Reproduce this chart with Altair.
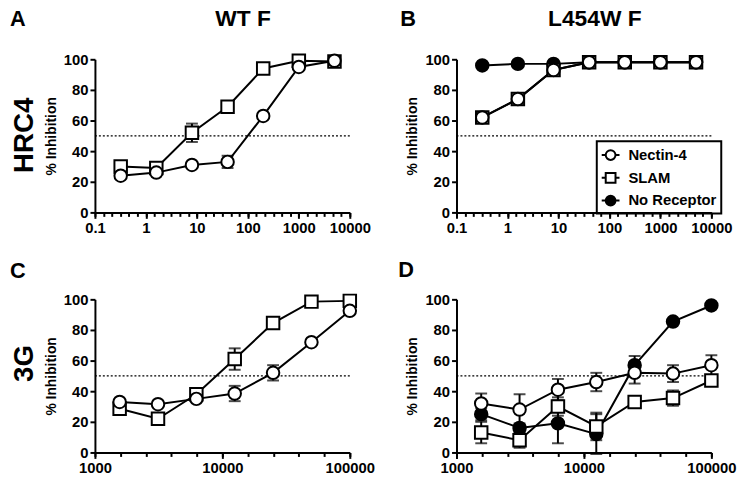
import altair as alt
import pandas as pd

# ---------------- data ----------------
X_TOP = [0.32, 1.6, 8, 40, 200, 1000, 5000]
X_BOT = [1562.5, 3125, 6250, 12500, 25000, 50000, 100000]

A_NECTIN = [24, 26, 31, 33, 63, 95, 99]
A_NECTIN_ERR = [0, 0, 0, 4, 0, 0, 0]
A_SLAM = [30, 29, 52, 69, 94, 99, 98.5]
A_SLAM_ERR = [0, 0, 6, 0, 0, 0, 0]

B_NECTIN = [62, 74, 93, 98, 98, 98, 98]
B_SLAM = [62, 74, 93, 98, 98, 98, 98]
B_NONE = [96, 97, 97, 98, 98, 98, 98]
B_ERR = [0, 0, 0, 0, 0, 0, 0]

C_NECTIN = [33, 31.5, 35, 38.5, 52, 72, 92.5]
C_NECTIN_ERR = [0, 0, 0, 5, 5, 0, 0]
C_SLAM = [28.5, 22, 38, 61, 84.5, 98.5, 99]
C_SLAM_ERR = [0, 0, 0, 7, 2.5, 0, 0]

D_NECTIN = [32, 28, 41, 46, 52, 51.5, 57]
D_NECTIN_ERR = [6.5, 10, 7, 6, 7, 5.5, 6.5]
D_SLAM = [13, 8, 30, 17, 33, 35.5, 47]
D_SLAM_ERR = [7, 5, 6, 9, 2, 5, 3]
D_NONE = [25, 16, 19, 12, 57, 85.5, 96]
D_NONE_ERR = [4, 3, 13, 13, 6, 0, 0]

THRESHOLD = [50]
TOP_TICKS = [0.1, 1, 10, 100, 1000, 10000]
BOT_TICKS = [1000, 10000, 100000]
Y_TICKS = [0, 20, 40, 60, 80, 100]
TOP_MINOR = [10 ** (-1 + k / 6) for k in range(31)]
BOT_MINOR = [10 ** (3 + k / 5) for k in range(11)]

SERIES = ["Nectin-4", "SLAM", "No Receptor"]
DRAW_ORDER = ["No Receptor", "SLAM", "Nectin-4"]
SHAPES = ["circle", "square", "circle"]
FILLS = ["white", "white", "black"]
CIRCLE_LINE = "M0.55,0A0.55,0.55 0 1,1 -0.55,0A0.55,0.55 0 1,1 0.55,0Z M-1,0L-0.55,0 M0.55,0L1,0"
SQUARE_LINE = "M-0.55,-0.55H0.55V0.55H-0.55Z M-1,0H-0.55 M0.55,0H1"
LEGEND_SHAPES = [CIRCLE_LINE, SQUARE_LINE, CIRCLE_LINE]

COL_TITLES = ["WT F", "L454W F"]
ROW_TITLES = ["HRC4", "3G"]
LETTERS = ["A", "B", "C", "D"]

FONT = "Liberation Sans"
W, H = 258, 155


def text_layer(t, x, y, size, angle=0, align="left", baseline="alphabetic"):
    return alt.Chart(pd.DataFrame({"t": [t]})).mark_text(
        font=FONT, fontWeight="bold", fontSize=size, angle=angle,
        align=align, baseline=baseline, color="black"
    ).encode(text="t:N", x=alt.value(x), y=alt.value(y))


def panel(xs, series, xdomain, xmajor, xminor, letter, lpos,
          col_title=None, cpos=None, row_title=None, rpos=None, legend=False):
    rows = []
    for name in DRAW_ORDER:
        if name not in series:
            continue
        ys, errs = series[name]
        for x, y, e in zip(xs, ys, errs):
            rows.append({"x": x, "y": y, "lo": y - e, "hi": y + e, "err": e, "s": name})
    df = pd.DataFrame(rows)
    base = alt.Chart(df)

    xscale = alt.Scale(type="log", domain=xdomain, nice=False)
    yscale = alt.Scale(domain=[0, 100], nice=False, zero=True)
    yaxis = alt.Axis(values=Y_TICKS, title="% Inhibition", tickSize=5, grid=False)
    major = alt.Axis(values=xmajor, orient="bottom", tickSize=6, title=None, grid=False,
                     labelFlush=False, labelOverlap=False, labelBound=False,
                     labelExpr="datum.value < 1 ? format(datum.value, '.1f') : format(datum.value, 'd')")
    minor = alt.Axis(values=xminor, orient="bottom", labels=False, domain=False,
                     tickSize=4, title=None, grid=False)

    ref = alt.Chart(pd.DataFrame({"v": THRESHOLD})).mark_rule(
        color="black", strokeDash=[2, 2], strokeWidth=1.3
    ).encode(y=alt.Y("v:Q", scale=yscale, axis=yaxis))

    err = base.transform_filter("datum.err > 0").mark_errorbar(
        ticks={"size": 12}, thickness=2, color="black"
    ).encode(
        x=alt.X("x:Q", scale=xscale, axis=None),
        y=alt.Y("lo:Q", scale=yscale, axis=yaxis),
        y2="hi:Q",
        detail="s:N",
    )

    line = base.mark_line(color="black", strokeWidth=2).encode(
        x=alt.X("x:Q", scale=xscale, axis=minor),
        y=alt.Y("y:Q", scale=yscale, axis=yaxis),
        detail="s:N",
    )

    pts = base.mark_point(filled=True, stroke="black", strokeWidth=2, size=160, opacity=1).encode(
        x=alt.X("x:Q", scale=xscale, axis=major),
        y=alt.Y("y:Q", scale=yscale, axis=yaxis),
        shape=alt.Shape("s:N", scale=alt.Scale(domain=SERIES, range=SHAPES), legend=None),
        fill=alt.Fill("s:N", scale=alt.Scale(domain=SERIES, range=FILLS), legend=None),
    )

    layers = [ref, err, line, pts]

    if legend:
        leg = alt.Legend(title=None, orient="none", legendX=142, legendY=83,
                         symbolSize=324, symbolStrokeWidth=2,
                         labelFont=FONT, labelFontWeight="bold", labelFontSize=15,
                         labelColor="black", labelOffset=8, rowPadding=4, padding=4,
                         strokeColor="black")
        legl = alt.Chart(pd.DataFrame({"s": SERIES})).transform_filter("false").mark_point(
            filled=False, stroke="black", strokeWidth=2, opacity=1
        ).encode(
            shape=alt.Shape("s:N", scale=alt.Scale(domain=SERIES, range=LEGEND_SHAPES), legend=leg),
            fill=alt.Fill("s:N", scale=alt.Scale(domain=SERIES, range=FILLS), legend=leg),
        )
        layers.append(legl)

    layers.append(text_layer(letter, lpos[0], lpos[1], 22))
    if col_title:
        layers.append(text_layer(col_title, cpos[0], cpos[1], 23, align="center"))
    if row_title:
        layers.append(text_layer(row_title, rpos[0], rpos[1], 28, angle=270,
                                 align="center", baseline="middle"))

    ch = alt.layer(*layers).resolve_axis(x="independent")
    if legend:
        ch = ch.resolve_scale(shape="independent", fill="independent")
    return ch.properties(width=W, height=H)


pA = panel(X_TOP, {"Nectin-4": (A_NECTIN, A_NECTIN_ERR), "SLAM": (A_SLAM, A_SLAM_ERR)},
           [0.1, 10000], TOP_TICKS, TOP_MINOR, LETTERS[0], (-86, -34),
           col_title=COL_TITLES[0], cpos=(W / 2 + 21, -34),
           row_title=ROW_TITLES[0], rpos=(-71, 77))
pB = panel(X_TOP, {"Nectin-4": (B_NECTIN, B_ERR), "SLAM": (B_SLAM, B_ERR), "No Receptor": (B_NONE, B_ERR)},
           [0.1, 10000], TOP_TICKS, TOP_MINOR, LETTERS[1], (-57, -34),
           col_title=COL_TITLES[1], cpos=(W / 2 + 11, -34), legend=True)
pC = panel(X_BOT, {"Nectin-4": (C_NECTIN, C_NECTIN_ERR), "SLAM": (C_SLAM, C_SLAM_ERR)},
           [1000, 100000], BOT_TICKS, BOT_MINOR, LETTERS[2], (-86, -22),
           row_title=ROW_TITLES[1], rpos=(-71, 65))
pD = panel(X_BOT, {"Nectin-4": (D_NECTIN, D_NECTIN_ERR), "SLAM": (D_SLAM, D_SLAM_ERR),
                   "No Receptor": (D_NONE, D_NONE_ERR)},
           [1000, 100000], BOT_TICKS, BOT_MINOR, LETTERS[3], (-59, -23))

chart = alt.concat(pA, pB, pC, pD, columns=2, spacing={"row": 88, "column": 108},
                   bounds="flush").configure_view(
    stroke=None
).configure_axis(
    domainColor="black", domainWidth=2, tickColor="black", tickWidth=2,
    labelColor="black", labelFont=FONT, labelFontWeight="bold", labelFontSize=15,
    titleFont=FONT, titleFontWeight="bold", titleFontSize=14, titleColor="black",
    labelPadding=2, titlePadding=5,
).configure_legend(
    strokeColor="black", strokeWidth=2
).properties(padding={"left": 2, "top": -3, "right": 5, "bottom": 5})

chart.save("out.html", embed_options={"renderer": "svg", "actions": False})
